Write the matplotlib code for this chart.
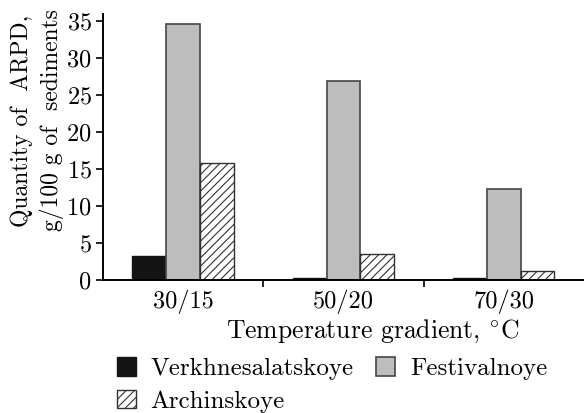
import matplotlib
matplotlib.use("Agg")
import matplotlib.pyplot as plt
import numpy as np

# data
gradients = ["30/15", "50/20", "70/30"]
verkhnesalatskoye = [3.2, 0.3, 0.3]
festivalnoye = [34.6, 27.0, 12.3]
archinskoye = [15.9, 3.5, 1.2]

plt.rcParams["font.family"] = ["cmr10", "DejaVu Serif"]
plt.rcParams["mathtext.fontset"] = "cm"
plt.rcParams["axes.formatter.use_mathtext"] = True
plt.rcParams["hatch.linewidth"] = 0.8

fig = plt.figure(figsize=(5.84, 4.13), dpi=100)
ax = fig.add_axes([0.176, 0.322, 0.824, 0.644])

x = np.arange(len(gradients))
w = 0.21
b1 = ax.bar(x - w, verkhnesalatskoye, w, color="#141414", edgecolor="#141414", linewidth=1,
            label="Verkhnesalatskoye")
b2 = ax.bar(x, festivalnoye, w, color="#bdbdbd", edgecolor="#454545", linewidth=1.2,
            label="Festivalnoye")
b3 = ax.bar(x + w, archinskoye, w, color="white", edgecolor="#303030", linewidth=1,
            hatch="////", label="Archinskoye")

ax.set_xlim(-0.5, 2.5)
ax.set_ylim(0, 36)
ax.set_yticks(range(0, 36, 5))
ax.set_xticks(x)
ax.set_xticklabels(gradients)
ax.set_xticks([0.5, 1.5], minor=True)
ax.tick_params(axis="x", which="major", length=0, pad=7, labelsize=17.5)
ax.tick_params(axis="x", which="minor", length=5, width=1.2, direction="out")
ax.tick_params(axis="y", length=5, width=1.2, labelsize=17.5, pad=3)

for s in ["top", "right"]:
    ax.spines[s].set_visible(False)
ax.spines["left"].set_linewidth(1.4)
ax.spines["bottom"].set_linewidth(1.4)

ax.set_ylabel("Quantity of  ARPD,\ng/100 g of  sediments", fontsize=17, linespacing=1.35)
ax.yaxis.set_label_coords(-0.08, 0.60)
ax.set_xlabel(r"Temperature gradient, $^{\circ}$C", fontsize=18.5)
ax.xaxis.set_label_coords(0.56, -0.14)

fig.legend(handles=[b1, b3, b2], labels=["Verkhnesalatskoye", "Archinskoye", "Festivalnoye"],
           ncol=2, loc="upper left", bbox_to_anchor=(0.2, 0.135), frameon=False,
           fontsize=18, handlelength=0.75, handleheight=0.75, handletextpad=0.6,
           columnspacing=0.9, labelspacing=0.4, borderpad=0, borderaxespad=0)

fig.savefig("out.png", dpi=100)
